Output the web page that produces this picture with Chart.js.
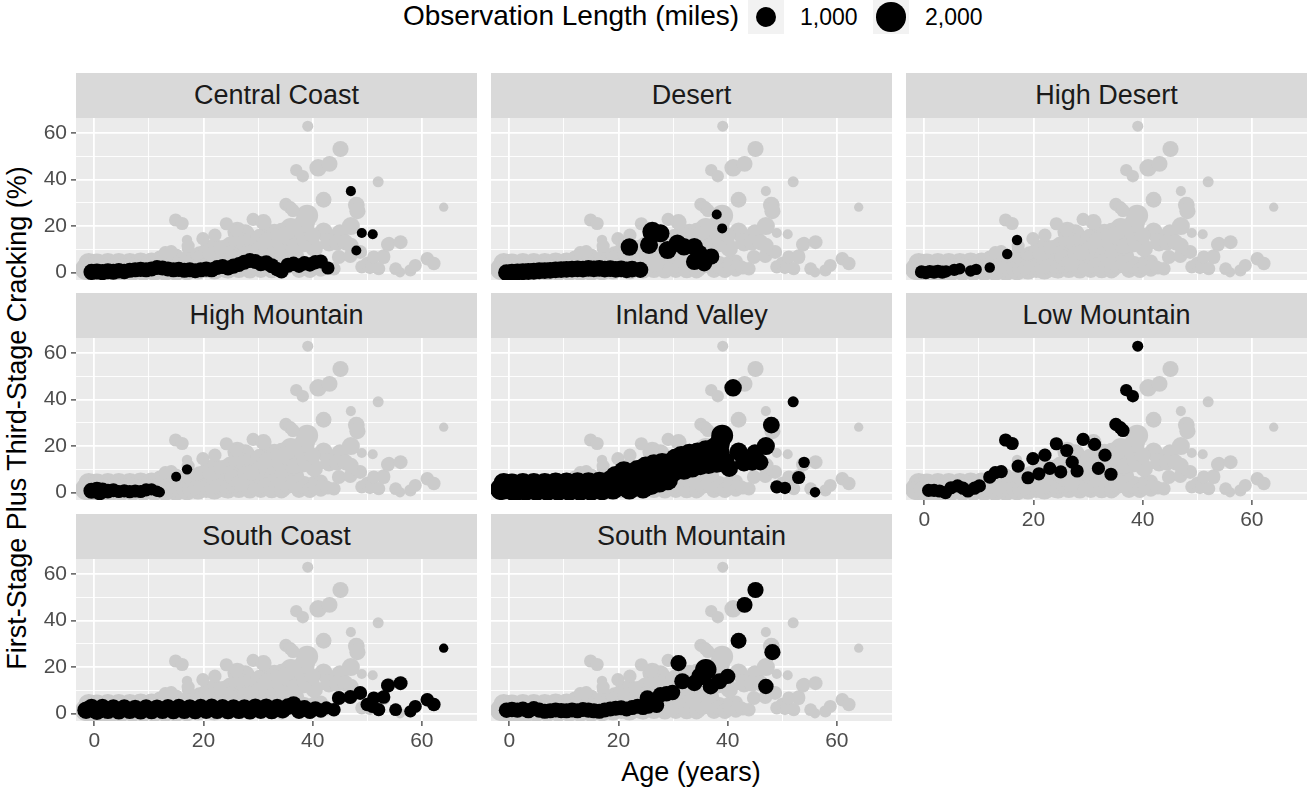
<!DOCTYPE html>
<html lang="en">
<head>
<meta charset="UTF-8">
<title>Cracking by Age and Region</title>
<style>
    body {
        margin: 0;
        background: #ffffff;
        font-family: "Liberation Sans", Arial, sans-serif;
    }
    #page {
        position: relative;
        width: 1307px;
        height: 788px;
        overflow: hidden;
    }
    .strip {
        position: absolute;
        background: #D9D9D9;
        color: #1A1A1A;
        font-size: 27px;
        text-align: center;
        height: 45px;
        line-height: 45px;
    }
    .panel { position: absolute; }
    .title { position: absolute; color: #000; font-size: 27px; white-space: nowrap; }
    .key {
        position: absolute;
        top: 0;
        width: 36px;
        height: 34px;
        background: #F2F2F2;
    }
    .dot { position: absolute; background: #000; border-radius: 50%; }
    .keylabel { position: absolute; top: 3px; font-size: 23px; color: #000; line-height: 28px; }
</style>
</head>
<body>
<div id="page">
    <div class="title" style="left:403px; top:0px; line-height:32px; font-size:28px;">Observation Length (miles)</div>
    <div class="key" id="key0" style="left:748px;"></div>
    <div class="keylabel" style="left:800px;">1,000</div>
    <div class="key" id="key1" style="left:873px;"></div>
    <div class="keylabel" style="left:925px;">2,000</div>
    <div class="title" style="left:17px; top:418px; transform:translate(-50%,-50%) rotate(-90deg);">First-Stage Plus Third-Stage Cracking (%)</div>
    <div class="title" style="left:691px; top:772px; transform:translate(-50%,-50%);">Age (years)</div>
</div>

<script src="https://cdn.jsdelivr.net/npm/chart.js"></script>
<script>
// each point: [age (years), cracking (%), observation length (miles)]
const centralCoast = [
    [-0.5,0.3,600],[0.5,0.5,600],[1.5,0.2,600],[2.5,0.6,600],[3.5,0.4,600],[4.5,0.8,550],[5.5,0.5,550],
    [6.5,1,520],[7.5,1.2,520],[8.5,1.4,520],[9.5,1.2,520],[10.5,1.6,520],[11.5,2.2,520],[12.5,2,520],
    [13.5,1.6,520],[14.5,1.2,520],[15.5,1.4,520],[16.5,1,520],[17.5,1.2,520],[18.5,0.8,520],[19.5,1.2,520],
    [20.5,1.5,520],[21.5,1.2,520],[22.5,2.2,520],[23.5,2.6,520],[24.5,2,520],[25.5,2.8,520],[26.5,3.5,520],
    [27.5,4.5,520],[28.5,5.2,520],[29.5,4.8,520],[30.5,3.8,520],[31.5,4.2,520],[32.5,3,520],[33.5,1.5,480],
    [34.3,0.5,450],[35.5,3.2,520],[36.5,3.8,480],[37.5,3,480],[38.5,4,480],[39.5,3.5,480],[40.5,4.5,480],
    [41.5,4.8,450],[42.8,2,400],[47,35,230],[49,17,230],[51,16.5,230],[48,9.5,230]
];
const desert = [
    [-0.5,0,650],[0.5,0.2,650],[1.5,0.3,650],[2.5,0.4,650],[3.5,0.5,650],[4.5,0.6,650],[5.5,0.8,650],
    [6.5,0.9,650],[7.5,1,650],[8.5,1.2,650],[9.5,1.3,650],[10.5,1.4,650],[11.5,1.5,650],[12.5,1.6,650],
    [13.5,1.5,650],[14.5,1.8,650],[15.5,1.6,650],[16.5,1.8,650],[17.5,1.5,650],[18.5,1.7,650],[19.5,1.4,650],
    [20.5,1.6,650],[21.5,1.2,650],[22.5,1.5,650],[24,1.2,600],
    [22,11,700],[26.2,17.6,900],[27.7,16.9,750],[25.6,11.9,750],[29,9.7,750],[30.8,12.6,700],[32,11.1,700],
    [33.9,11.1,700],[34.8,8.3,650],[37,6.9,600],[33.9,4.7,650],[35.7,4,600],[38,25,230],[39,19,230]
];
const highDesert = [
    [-0.5,0.3,400],[0.3,0,400],[1,0.5,400],[1.8,0.2,400],[2.5,0.6,400],[3.3,0.2,400],[4,0.5,350],
    [5.5,1.2,350],[6.5,1.7,300],[8.5,0.7,300],[9.5,1.4,300],[12,2.2,250],[15.2,8,250],[17,14,250]
];
const highMountain = [
    [-0.5,0.8,600],[0.5,1.2,600],[1,0.2,600],[1.5,1,550],[2.5,0.6,500],[3.5,1,450],[4.5,0.5,400],
    [5.5,0.8,400],[6.5,0.4,400],[7.5,0.7,400],[8.5,0.5,400],[9.5,1.2,400],[10.5,1.4,350],[11.5,0.6,300],
    [12,0.2,250],[15,6.8,230],[17,10,250]
];
const inlandValley = [
    [-1.5,1.5,1100],[-1,4,1000],[-0.5,2,1100],[0.5,3.5,1100],[1,0.5,1000],[1.5,2.5,1000],[2.5,4,1000],
    [3,1,1000],[3.5,2.5,1000],[4.5,4,1000],[5,1,1000],[5.5,2.5,1000],[6.5,4,1000],[7,1,1000],[7.5,2.5,1000],
    [8.5,4.2,1000],[9,1,1000],[9.5,2.5,1000],[10.5,4.2,1000],[11,1,1000],[11.5,2.5,1000],[12.5,4.3,1000],
    [13,1,1000],[13.5,2.5,1000],[14.5,4.3,1000],[15,1,1000],[15.5,2.8,1000],[16.5,4.5,1000],[17,1.2,1000],
    [17.5,3,1000],[18.5,5,1000],[19,1.5,1000],
    [19.5,7,1000],[20.5,3,1000],[21,9,1000],[21.5,5.5,1000],[22,1.5,1000],[22.5,8,1000],[23,3.5,1000],
    [23.5,9.5,1000],[24,6,1000],[24.5,2,1000],
    [25,11,1000],[25.5,7.5,1000],[26,3.5,1000],[26.5,12,1000],[27,8.5,1000],[27.5,4.5,1000],[28,12.5,1000],
    [28.5,9,1000],[29,5.5,1000],[29.5,12.5,1000],
    [30,9,1000],[30.5,14.5,1000],[31,11,1000],[31.5,15.5,1000],[32,10,1000],[32.5,13,1000],[33,16.5,1000],
    [33.5,11,1000],[34,14,1000],[34.5,17,1000],
    [35,12,1000],[35.5,15,1000],[36,18,1000],[36.5,12.5,1000],[37,16,1000],[37.5,19,1000],[38,13,1000],
    [38.5,17,1000],[38.5,21,1000],[39,24.5,1100],[39.5,13,900],[40.3,10.5,700],
    [41,45,700],[52,39,280],[48,29,650],[42,17.6,750],[45,17,700],[47,20,750],[43,13,750],[44.5,13,650],
    [46,13,600],[54,13,300],[53,6.5,400],[49,2.5,400],[50.5,2,350],[56,0.2,250]
];
const lowMountain = [
    [0.8,1,400],[1.8,1,400],[2.8,0.7,400],[3.9,0,400],[4.9,2.1,400],[6.1,2.9,400],[7.1,1.9,400],[8,0.7,400],
    [9.2,1.9,400],[10.1,2.9,400],[12,6.7,400],[13,8.6,400],[14.1,9,400],[14.9,22.6,400],[16.1,21.1,400],
    [17.2,11.4,400],[19,6.4,400],[19.9,14.6,400],[21,8.1,400],[22.1,16.1,400],[23,10.4,400],[24.2,21,400],
    [25,8.9,400],[26.1,18.1,400],[27.1,13.1,400],[28,9.3,400],[29.1,22.9,400],[31.2,20.7,400],
    [31.9,10.4,400],[33.1,16.1,400],[34.2,7.9,400],[35.1,29.3,400],[35.9,27.9,400],[36.4,26.7,400],
    [37,44,350],[38.2,41.4,350],[39.1,62.9,280]
];
const southCoast = [
    [-1.5,1.5,700],[-0.5,2.5,750],[0.5,1.2,750],[1.5,2.6,700],[2.5,1.4,700],[3.5,2.4,700],[4.5,1.2,700],
    [5.5,2.4,700],[6.5,1.4,700],[7.5,2.2,700],[8.5,1.2,700],[9.5,2.4,700],[10.5,1.3,700],[11.5,2.3,700],
    [12.5,1.4,700],[13.5,2.5,700],[14.5,1.3,700],[15.5,2.6,700],[16.5,1.4,700],[17.5,2.4,700],[18.5,1.3,700],
    [19.5,2.6,700],[20.5,1.5,700],[21.5,2.7,700],[22.5,1.4,700],[23.5,2.5,700],[24.5,1.3,700],[25.5,2.4,700],
    [26.5,1.4,700],[27.5,2.4,700],[28.5,1.2,700],[29.5,2.8,700],[30.5,1.5,700],[31.5,2.8,700],[32.5,1.3,700],
    [33.5,2.6,700],[34.5,1.5,650],[35.5,3,650],[36.5,4,600],[37.5,1.2,600],[38.5,2.5,550],[39.5,1,550],
    [40.5,2.2,500],[41.5,1.2,450],[42.5,2.5,400],
    [43.9,1.7,420],[44.8,6.7,450],[46.9,7.1,450],[48.7,8.9,450],[50,3.9,420],[50.9,3.1,400],[51.2,6.7,400],
    [52.1,1.7,400],[53,7.1,420],[53.8,12.1,450],[56.1,13.1,450],[55.2,1.7,380],[57.9,1,350],[58.8,3.1,380],
    [61,6,420],[62.2,3.9,420],[64,28.1,200]
];
const southMountain = [
    [-0.5,1.5,550],[0.5,1.8,550],[1.5,1.5,520],[2.5,2,520],[3.5,1.2,520],[4.5,2.2,520],[5.5,1.5,520],
    [6.5,1,520],[7.5,1.2,520],[8.5,1.6,520],[9.5,1.3,520],[10.5,1.2,520],[11.5,1.6,520],[12.5,1.2,520],
    [13.5,1.8,520],[14.5,1.5,520],[15.5,1.2,520],[16.5,1,520],[17.5,1.6,520],[18.5,2,520],[19.5,2.3,520],
    [20.5,2.5,520],[21.5,2,520],[22.5,2.6,520],[23.5,3.2,520],[24.5,2.6,520],[25.5,3.2,520],[25.3,6.7,550],
    [26.5,4,550],[27.7,8.1,550],[27,3.5,520],[29.9,9.1,550],[28.8,8.5,550],
    [31,21.7,600],[31.7,13.9,600],[33.9,13.1,600],[36,18.9,1050],[35,16,750],[36.9,11.7,600],[38.5,13.9,600],
    [40,16,550],[42,31.3,580],[43.1,46.7,580],[45.1,53.1,600],[48.2,26.4,600],[47,11.7,550]
];

const regionNames = ['Central Coast', 'Desert', 'High Desert', 'High Mountain', 'Inland Valley',
                     'Low Mountain', 'South Coast', 'South Mountain'];
const regionData = [centralCoast, desert, highDesert, highMountain, inlandValley,
                    lowMountain, southCoast, southMountain];
const xTicks = [0, 10, 20, 30, 40, 50, 60];
const yTicks = [0, 10, 20, 30, 40, 50, 60];
const majorTicks = [0, 20, 40, 60];
const legendLengths = [1000, 2000];

// layout of the facet grid
const colLeft = [76, 491, 906];
const rowTop = [118, 338, 559];
const plotW = 401, plotH = 162, stripH = 45;
const FONT = '"Liberation Sans", Arial, sans-serif';

function sizeToRadius(len) { return 0.33 * Math.sqrt(len); }
function toPoints(arr) { return arr.map(p => ({ x: p[0], y: p[1], l: p[2] })); }

const allPoints = toPoints([].concat(...regionData));

const panelBg = {
    id: 'panelBg',
    beforeDraw(chart) {
        const a = chart.chartArea, ctx = chart.ctx;
        ctx.save();
        ctx.fillStyle = '#EBEBEB';
        ctx.fillRect(a.left, a.top, a.right - a.left, a.bottom - a.top);
        ctx.restore();
    }
};

const page = document.getElementById('page');

regionNames.forEach((name, i) => {
    const row = Math.floor(i / 3), col = i % 3;
    const leftAxis = col === 0 ? 76 : 0;
    const bottomAxis = i >= 5 ? 40 : 0;

    const strip = document.createElement('div');
    strip.className = 'strip';
    strip.style.left = colLeft[col] + 'px';
    strip.style.top = (rowTop[row] - stripH) + 'px';
    strip.style.width = plotW + 'px';
    strip.textContent = name;
    page.appendChild(strip);

    const holder = document.createElement('div');
    holder.className = 'panel';
    holder.style.left = (colLeft[col] - leftAxis) + 'px';
    holder.style.top = rowTop[row] + 'px';
    const canvas = document.createElement('canvas');
    canvas.width = plotW + leftAxis;
    canvas.height = plotH + bottomAxis;
    holder.appendChild(canvas);
    page.appendChild(holder);

    const isMajor = ctx => ctx.tick && majorTicks.includes(ctx.tick.value);
    const gridOpts = (showTicks) => ({
        color: '#FFFFFF',
        lineWidth: ctx => isMajor(ctx) ? 1.8 : 0.9,
        drawTicks: showTicks,
        tickLength: 5,
        tickWidth: 1.2,
        tickColor: ctx => isMajor(ctx) ? '#333333' : 'rgba(0,0,0,0)'
    });
    const zeroPad = s => { s.paddingLeft = 0; s.paddingRight = 0; s.paddingTop = 0; s.paddingBottom = 0; };
    const radius = ctx => sizeToRadius(ctx.raw.l);

    new Chart(canvas, {
        type: 'scatter',
        data: {
            datasets: [{
                // region's own roads, drawn on top
                data: toPoints(regionData[i]),
                order: 1,
                pointBackgroundColor: '#000000',
                pointBorderWidth: 0,
                pointRadius: radius,
                pointHoverRadius: radius
            }, {
                // every region, drawn underneath in grey
                data: allPoints,
                order: 2,
                pointBackgroundColor: '#CBCBCB',
                pointBorderWidth: 0,
                pointRadius: radius,
                pointHoverRadius: radius
            }]
        },
        options: {
            responsive: false,
            animation: false,
            events: [],
            devicePixelRatio: 1,
            layout: { padding: 0, autoPadding: false },
            plugins: { legend: { display: false }, tooltip: { enabled: false } },
            scales: {
                x: {
                    type: 'linear',
                    min: -3.34,
                    max: 70.1,
                    afterBuildTicks: s => { s.ticks = xTicks.map(v => ({ value: v })); },
                    afterFit: s => { s.height = bottomAxis; zeroPad(s); },
                    ticks: {
                        display: bottomAxis > 0,
                        autoSkip: false,
                        maxRotation: 0,
                        padding: 3,
                        color: '#4D4D4D',
                        font: { family: FONT, size: 21 },
                        callback: v => majorTicks.includes(v) ? String(v) : ''
                    },
                    grid: gridOpts(bottomAxis > 0),
                    border: { display: false }
                },
                y: {
                    type: 'linear',
                    min: -3.16,
                    max: 66.4,
                    afterBuildTicks: s => { s.ticks = yTicks.map(v => ({ value: v })); },
                    afterFit: s => { s.width = leftAxis; zeroPad(s); },
                    ticks: {
                        display: leftAxis > 0,
                        autoSkip: false,
                        padding: 4,
                        color: '#4D4D4D',
                        font: { family: FONT, size: 21 },
                        callback: v => majorTicks.includes(v) ? String(v) : ''
                    },
                    grid: gridOpts(leftAxis > 0),
                    border: { display: false }
                }
            }
        },
        plugins: [panelBg]
    });
});

// legend keys, sized with the same radius mapping as the points
legendLengths.forEach((len, k) => {
    const key = document.getElementById('key' + k);
    const r = sizeToRadius(len);
    const dot = document.createElement('div');
    dot.className = 'dot';
    dot.style.width = (2 * r) + 'px';
    dot.style.height = (2 * r) + 'px';
    dot.style.left = (18 - r) + 'px';
    dot.style.top = (17 - r) + 'px';
    key.appendChild(dot);
});
</script>
</body>
</html>
